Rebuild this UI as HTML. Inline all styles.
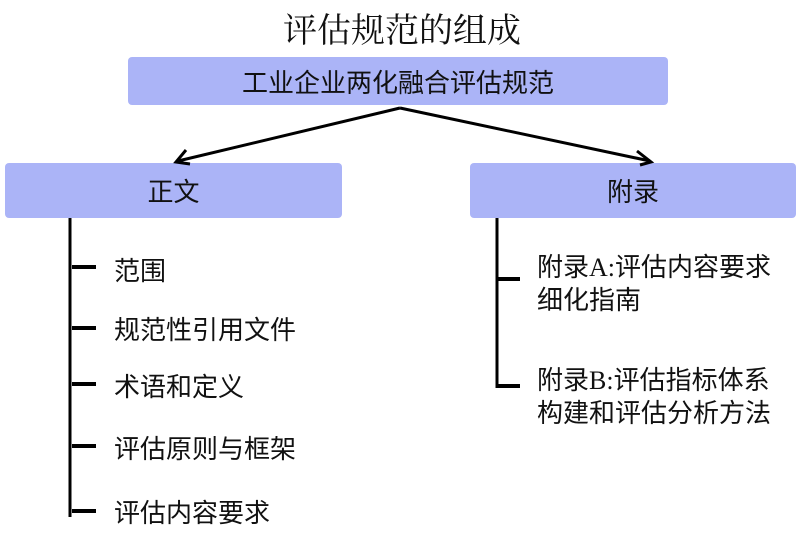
<!DOCTYPE html>
<html><head><meta charset="utf-8"><style>
body{margin:0;width:804px;height:545px;background:#fff;position:relative;overflow:hidden;font-family:"Liberation Sans","Noto Sans CJK SC",sans-serif;}
.t{position:absolute;white-space:nowrap;color:#111;}
.box{position:absolute;background:#abb4f7;border-radius:4px;display:flex;align-items:center;justify-content:center;font-size:26px;color:#111;}
</style></head><body>
<div class="t" style="left:0;width:804px;text-align:center;top:3px;font-size:34px;font-family:'Liberation Serif','Noto Serif CJK SC',serif;">评估规范的组成</div>
<div class="box" style="left:128px;top:57px;width:540px;height:48px;">工业企业两化融合评估规范</div>
<div class="box" style="left:5px;top:163px;width:337px;height:55px;">正文</div>
<div class="box" style="left:470px;top:163px;width:326px;height:55px;">附录</div>
<svg width="804" height="545" style="position:absolute;left:0;top:0">
<g stroke="#000" stroke-width="3" fill="none">
<line x1="400" y1="108" x2="178" y2="161"/>
<line x1="400" y1="108" x2="650" y2="161"/>
<polyline points="186,150 176,162 190,164"/>
<polyline points="637,151 651,162 640,165"/>
<line x1="70" y1="218" x2="70" y2="517"/>
<g stroke-width="4">
<line x1="72" y1="267" x2="96" y2="267"/>
<line x1="72" y1="328" x2="96" y2="328"/>
<line x1="72" y1="384" x2="96" y2="384"/>
<line x1="72" y1="446" x2="96" y2="446"/>
<line x1="72" y1="511" x2="96" y2="511"/>
<line x1="497" y1="279" x2="520" y2="279"/>
<line x1="497" y1="386" x2="520" y2="386"/>
</g>
<line x1="497" y1="218" x2="497" y2="388"/>
</g></svg>
<div class="t" style="left:114px;top:251px;font-size:26px;">范围</div>
<div class="t" style="left:114px;top:310px;font-size:26px;">规范性引用文件</div>
<div class="t" style="left:114px;top:367px;font-size:26px;">术语和定义</div>
<div class="t" style="left:114px;top:429px;font-size:26px;">评估原则与框架</div>
<div class="t" style="left:114px;top:493px;font-size:26px;">评估内容要求</div>
<div class="t" style="left:537px;top:251px;font-size:26px;line-height:32px;">附录<span style="font-family:'Liberation Serif',serif">A:</span>评估内容要求<br>细化指南</div>
<div class="t" style="left:537px;top:364px;font-size:26px;line-height:32px;">附录<span style="font-family:'Liberation Serif',serif">B:</span>评估指标体系<br>构建和评估分析方法</div>
</body></html>
